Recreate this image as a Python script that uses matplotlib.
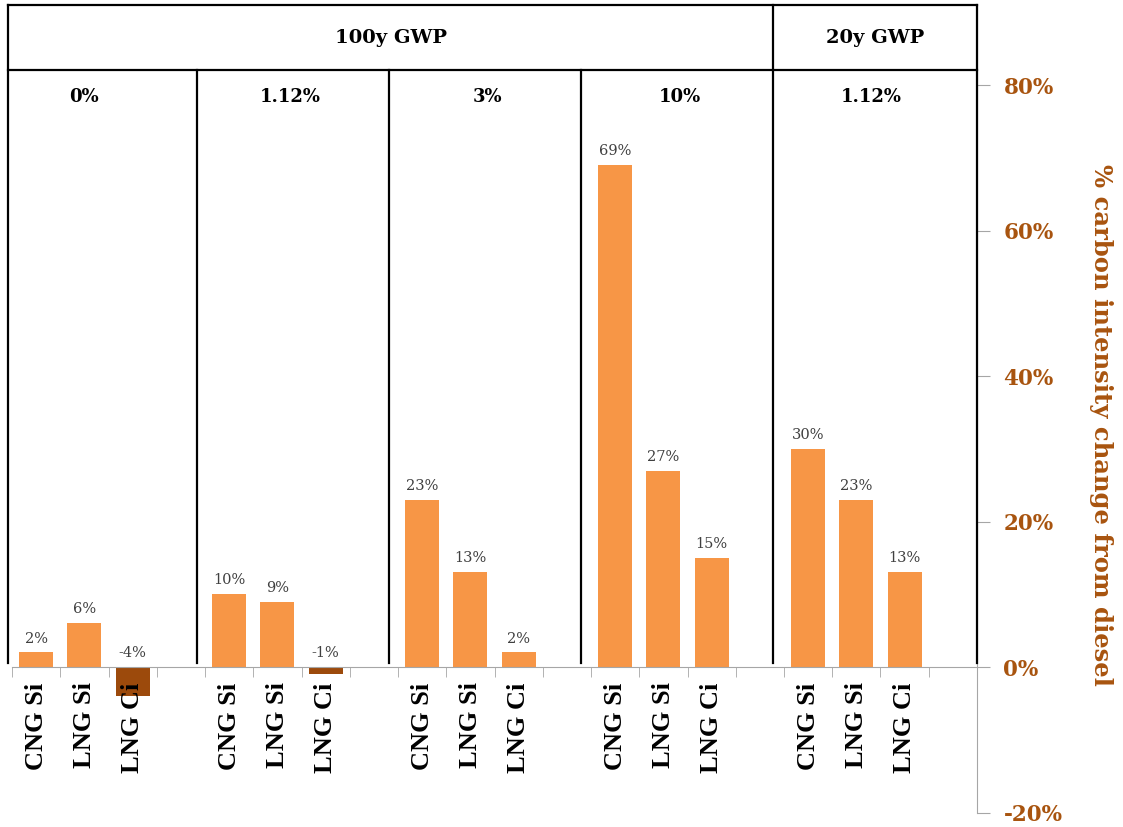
import matplotlib
matplotlib.use("Agg")
import matplotlib.pyplot as plt
import numpy as np

# Data: % change in carbon intensity vs diesel, by methane leakage scenario
groups = ["0%", "1.12%", "3%", "10%", "1.12%"]
headers = ["100y GWP", "20y GWP"]
fuels = ["CNG Si", "LNG Si", "LNG Ci"]
cng_si = [2, 10, 23, 69, 30]
lng_si = [6, 9, 13, 27, 23]
lng_ci = [-4, -1, 2, 15, 13]
yticks = [-20, 0, 20, 40, 60, 80]

ORANGE = "#F79646"
DARK = "#9C4A0C"
BROWN = "#A8540F"
GRAY = "#A6A6A6"

fig = plt.figure(figsize=(11.23, 8.27), dpi=100)
ax = fig.add_axes([0.01069, 0.01753, 0.8593, 0.97642])
ax.set_axisbelow(False)  # category labels stay on top of negative bars

# each group takes 4 slots: three bars and one gap
values = np.array([cng_si, lng_si, lng_ci]).T  # shape (group, fuel)
xs, vals, labels = [], [], []
for g in range(len(groups)):
    for f in range(len(fuels)):
        xs.append(g * 4 + f)
        vals.append(values[g, f])
        labels.append(fuels[f])
xs = np.array(xs)
vals = np.array(vals)
colors = [ORANGE if v >= 0 else DARK for v in vals]

ax.bar(xs, vals, width=0.7, color=colors, zorder=2)
for x, v in zip(xs, vals):
    ax.annotate(f"{v}%", (x, max(v, 0)), xytext=(0, 5), textcoords="offset points",
                ha="center", va="bottom", fontsize=10.5, family="DejaVu Serif",
                color="#404040")

ax.set_xlim(-0.5, 19.5)
ax.set_ylim(-20, 91)

# x axis sits on the zero line
ax.spines["bottom"].set_position(("data", 0))
ax.spines["bottom"].set_color(GRAY)
ax.spines["left"].set_visible(False)
ax.spines["top"].set_visible(False)
ax.spines["right"].set_color(GRAY)
ax.set_xticks(xs)
ax.set_xticklabels(labels, rotation=90, fontsize=19, fontweight="bold",
                   family="Liberation Serif", va="top")
ax.tick_params(axis="x", which="major", length=0, pad=11)
ax.set_xticks(np.arange(-0.5, 20, 1), minor=True)
ax.tick_params(axis="x", which="minor", length=7, color=GRAY, direction="out")

ax.yaxis.tick_right()
ax.yaxis.set_label_position("right")
ax.set_yticks(yticks)
ax.set_yticklabels([f"{t}%" for t in yticks], fontsize=15.5, fontweight="bold",
                   family="DejaVu Serif", color=BROWN)
ax.tick_params(axis="y", length=9, color=GRAY, pad=10)
ax.set_ylabel("% carbon intensity change from diesel", rotation=270, fontsize=17.5,
              fontweight="bold", family="DejaVu Serif", color=BROWN,
              va="center", ha="center")
ax.yaxis.set_label_coords(1.128, 0.48)

# header table drawn over the plot area
edges = [-0.58, 3.33, 7.31, 11.29, 15.27, 19.5]
top, mid, low = 91, 82.06, 0.5
lk = dict(color="black", lw=1.6, clip_on=False, zorder=3)
ax.plot([edges[0], edges[-1]], [top, top], **lk)
ax.plot([edges[0], edges[-1]], [mid, mid], **lk)
for e in (edges[0], edges[4], edges[5]):
    ax.plot([e, e], [top, low], **lk)
for e in edges[1:4]:
    ax.plot([e, e], [mid, low], **lk)

hk = dict(ha="center", va="center", fontweight="bold", family="DejaVu Serif")
ax.text((edges[0] + edges[4]) / 2, 86.4, headers[0], fontsize=14, **hk)
ax.text((edges[4] + edges[5]) / 2, 86.4, headers[1], fontsize=14, **hk)
group_x = [0.99, 5.26, 9.36, 13.34, 17.30]
for x, name in zip(group_x, groups):
    ax.text(x, 78.4, name, fontsize=13, **hk)

fig.savefig("out.png", dpi=100)
